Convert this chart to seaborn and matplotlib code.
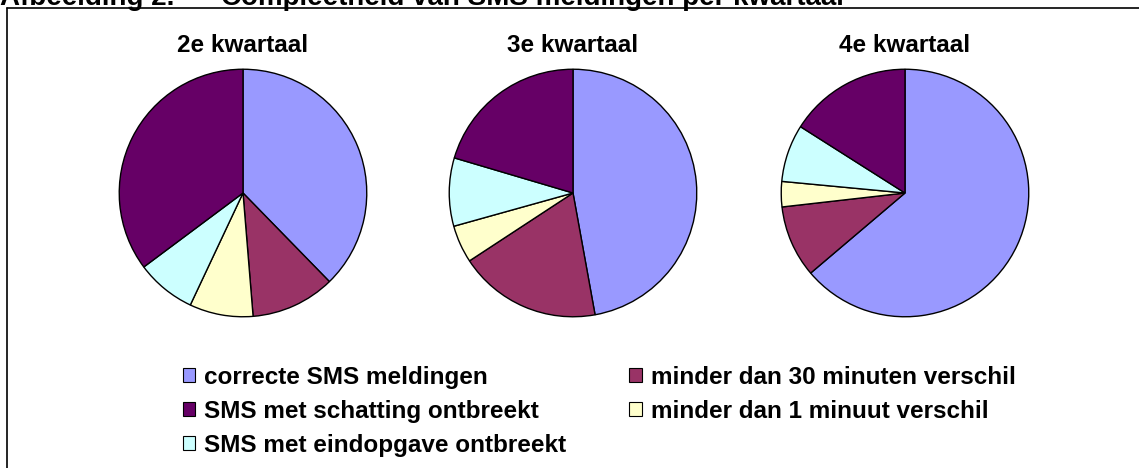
import matplotlib
matplotlib.use("Agg")
import matplotlib.pyplot as plt
from matplotlib.patches import Patch
from matplotlib.lines import Line2D
import seaborn as sns

sns.set_style("white")
plt.rcParams['font.family'] = ['Liberation Sans', 'DejaVu Sans']
plt.rcParams['text.color'] = 'black'

# data (percentages)
quarters = ['2e kwartaal', '3e kwartaal', '4e kwartaal']
categories = ['correcte SMS meldingen', 'minder dan 30 minuten verschil',
              'minder dan 1 minuut verschil', 'SMS met eindopgave ontbreekt',
              'SMS met schatting ontbreekt']
q2 = [37.7, 11.0, 8.3, 7.8, 35.2]
q3 = [47.1, 18.6, 4.9, 8.9, 20.4]
q4 = [63.8, 9.4, 3.3, 7.5, 16.0]
colors = ['#9999ff', '#993366', '#ffffcc', '#ccffff', '#660066']

W, H = 1139, 468
fig = plt.figure(figsize=(W / 100, H / 100), dpi=100)

centers_x = [243, 573, 905]
cy = 193
r = 125
for name, vals, cx in zip(quarters, [q2, q3, q4], centers_x):
    ax = fig.add_axes([(cx - r) / W, 1 - (cy + r) / H, 2 * r / W, 2 * r / H])
    ax.pie(vals, colors=colors, startangle=90, counterclock=False,
           wedgeprops=dict(edgecolor='black', linewidth=1.0))
    ax.set_xlim(-1.01, 1.01)
    ax.set_ylim(-1.01, 1.01)
    ax.axis('off')
    fig.text(cx / W, 1 - 46 / H, name, ha='center', va='center',
             fontsize=17.5, fontweight='bold')

# legend: column-major order so rows read as in the original
order = [0, 4, 3, 1, 2]
handles = [Patch(facecolor=colors[i], edgecolor='black', linewidth=0.8,
                 label=categories[i]) for i in order]
fig.legend(handles=handles, loc='upper left', bbox_to_anchor=(183 / W, 1 - 366 / H),
           ncol=2, frameon=False, prop=dict(weight='bold', size=17.5),
           handlelength=0.5, handleheight=0.5, handletextpad=0.37,
           columnspacing=2.6, labelspacing=0.45, borderpad=0, borderaxespad=0)

# cropped title and frame
fig.text(0, 1 - 5 / H, 'Afbeelding 2.', ha='left', va='baseline',
         fontsize=20, fontweight='bold')
fig.text(221 / W, 1 - 5 / H, 'Compleetheid van SMS meldingen per kwartaal',
         ha='left', va='baseline', fontsize=20, fontweight='bold')
fig.add_artist(Line2D([7 / W, 1], [1 - 8 / H, 1 - 8 / H], color='black', linewidth=1.2))
fig.add_artist(Line2D([7 / W, 7 / W], [0, 1 - 8 / H], color='black', linewidth=1.2))

fig.savefig('out.png', dpi=100)
